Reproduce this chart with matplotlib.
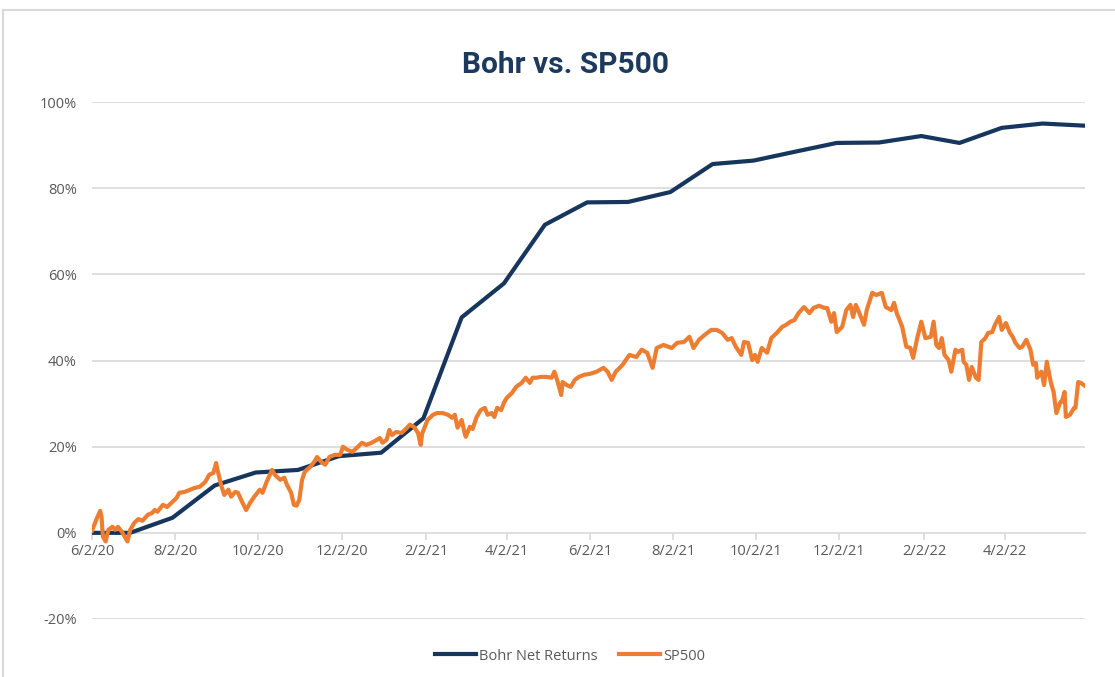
import numpy as np
import pandas as pd
import matplotlib
matplotlib.use("Agg")
import matplotlib.pyplot as plt
from matplotlib.lines import Line2D

# Bohr net returns, month-end points (%)
bohr_dates = ["2020-06-02", "2020-06-30", "2020-07-31", "2020-08-31", "2020-09-30",
              "2020-10-31", "2020-11-30", "2020-12-31", "2021-01-31", "2021-02-28",
              "2021-03-31", "2021-04-30", "2021-05-31", "2021-06-30", "2021-07-31",
              "2021-08-31", "2021-09-30", "2021-10-31", "2021-11-30", "2021-12-31",
              "2022-01-31", "2022-02-28", "2022-03-31", "2022-04-30", "2022-05-31"]
bohr_vals = [0.0, 0.0, 3.5, 11.0, 14.0,
             14.6, 17.8, 18.6, 26.6, 50.0,
             57.9, 71.5, 76.7, 76.8, 79.1,
             85.6, 86.4, 88.5, 90.5, 90.6,
             92.1, 90.5, 94.0, 95.0, 94.5]

# SP500 cumulative return (%), days since 6/2/20
start = pd.Timestamp("2020-06-02")
sp_days = [0, 4, 6, 7, 8, 10, 12, 15, 17, 19,
           22, 24, 26, 28, 31, 34, 37, 41, 44, 46,
           48, 52, 55, 59, 62, 64, 68, 72, 75, 79,
           83, 86, 89, 91, 92, 95, 97, 100, 102, 105,
           107, 110, 113, 116, 119, 123, 125, 128, 132, 134,
           138, 141, 143, 146, 148, 150, 152, 154, 156, 160,
           163, 165, 168, 171, 174, 178, 182, 184, 187, 191,
           194, 198, 201, 205, 209, 211, 213, 216, 218, 220,
           223, 227, 231, 233, 236, 239, 241, 242, 246, 250,
           253, 257, 261, 264, 266, 268, 271, 273, 274, 277,
           279, 282, 285, 288, 290, 293, 295, 297, 300, 302,
           304, 308, 311, 315, 318, 321, 323, 326, 329, 333,
           337, 339, 341, 344, 345, 348, 351, 354, 357, 361,
           365, 370, 375, 378, 381, 384, 389, 394, 399, 403,
           407, 411, 414, 419, 425, 429, 434, 438, 441, 445,
           449, 454, 458, 462, 466, 469, 472, 476, 478, 481,
           484, 486, 488, 491, 495, 498, 502, 506, 509, 512,
           515, 518, 522, 526, 529, 533, 537, 539, 542, 544,
           546, 550, 553, 556, 558, 560, 564, 566, 568, 572,
           575, 579, 582, 586, 588, 590, 594, 597, 600, 602,
           605, 608, 611, 615, 617, 619, 621, 623, 625, 628,
           630, 633, 635, 638, 639, 641, 643, 645, 648, 650,
           652, 655, 657, 660, 662, 665, 667, 670, 673, 675,
           677, 680, 682, 685, 688, 690, 692, 693, 696, 698,
           700, 703, 705, 707, 710, 711, 713, 714, 717, 720,
           721, 723, 725, 728]
sp_vals = [0.5, 3.7, 5.1, 3.7, -0.9, -2.0, 0.7, 1.4, 0.7, 1.4,
           0.2, -0.9, -2.0, 0.7, 2.3, 3.2, 2.8, 4.2, 4.6, 5.3,
           4.9, 6.5, 6.0, 7.2, 8.1, 9.3, 9.5, 10.0, 10.4, 10.7,
           11.8, 13.5, 13.9, 16.2, 14.6, 10.7, 8.8, 10.0, 8.4, 9.5,
           9.3, 7.2, 5.3, 7.0, 8.4, 10.0, 9.3, 11.8, 14.6, 13.5,
           12.3, 12.8, 11.1, 9.3, 6.5, 6.3, 7.7, 12.3, 14.2, 15.3,
           16.5, 17.6, 16.5, 15.8, 17.6, 18.1, 18.1, 20.0, 19.3, 18.8,
           19.7, 20.9, 20.4, 20.9, 21.6, 22.0, 20.9, 21.6, 23.9, 22.7,
           23.4, 23.2, 24.4, 25.1, 24.6, 23.2, 20.4, 23.0, 26.2, 27.4,
           27.8, 27.8, 27.4, 26.7, 27.4, 24.4, 26.2, 23.4, 22.3, 24.6,
           24.1, 26.9, 28.5, 29.0, 27.4, 27.8, 26.9, 29.0, 28.5, 30.2,
           31.3, 32.5, 33.9, 34.8, 36.0, 34.8, 36.0, 36.0, 36.2, 36.2,
           36.0, 37.4, 35.5, 32.0, 35.0, 34.3, 33.9, 35.5, 36.2, 36.7,
           36.9, 37.4, 38.3, 37.4, 35.5, 37.4, 39.0, 41.3, 40.8, 42.5,
           41.8, 38.3, 42.9, 43.6, 42.9, 44.1, 44.3, 45.5, 42.9, 44.8,
           45.9, 47.1, 47.1, 46.4, 44.8, 45.2, 43.2, 41.3, 44.3, 44.1,
           40.1, 41.3, 39.7, 42.9, 41.8, 45.2, 46.4, 47.8, 48.3, 49.0,
           49.4, 51.0, 52.4, 51.0, 52.2, 52.7, 52.2, 52.2, 49.0, 51.0,
           46.6, 47.8, 51.7, 52.9, 50.1, 52.9, 49.9, 48.3, 51.7, 55.7,
           55.2, 55.7, 52.4, 51.7, 53.4, 51.0, 47.8, 43.2, 42.9, 40.6,
           45.2, 49.0, 45.2, 45.5, 49.0, 43.6, 42.9, 45.2, 41.3, 40.1,
           37.4, 42.5, 42.0, 42.5, 39.7, 39.0, 35.5, 38.5, 36.0, 35.5,
           44.3, 45.2, 46.4, 46.6, 48.3, 50.1, 47.1, 48.7, 46.4, 45.5,
           44.1, 42.9, 43.2, 44.8, 42.5, 39.0, 39.4, 36.0, 37.4, 34.3,
           39.7, 34.8, 32.7, 27.8, 30.4, 30.4, 32.7, 26.9, 27.4, 29.0,
           29.0, 35.0, 34.8, 34.1]

tick_dates = ["2020-06-02", "2020-08-02", "2020-10-02", "2020-12-02", "2021-02-02",
              "2021-04-02", "2021-06-02", "2021-08-02", "2021-10-02", "2021-12-02",
              "2022-02-02", "2022-04-02"]
y_ticks = [-20, 0, 20, 40, 60, 80, 100]

navy = "#17365D"
orange = "#ED7D31"
grid = "#D9D9D9"
txt = "#595959"

fig = plt.figure(figsize=(11.15, 6.77), dpi=100)
ax = fig.add_axes([92 / 1115, 1 - 619 / 677, (1085 - 92) / 1115, (619 - 102) / 677])

bd = pd.to_datetime(bohr_dates)
sd = start + pd.to_timedelta(sp_days, unit="D")
ax.plot(bd, bohr_vals, color=navy, lw=3.0, solid_capstyle="round", label="Bohr Net Returns", zorder=3)
ax.plot(sd, sp_vals, color=orange, lw=3.0, solid_joinstyle="round", label="SP500", zorder=4)

ax.set_xlim(start, pd.Timestamp("2022-05-31"))
ax.set_ylim(-20, 100)

ax.set_yticks(y_ticks)
ax.set_yticklabels([f"{v}%" for v in y_ticks])
for v in y_ticks:
    if v != 0:
        ax.axhline(v, color=grid, lw=1.2, zorder=1)

td = pd.to_datetime(tick_dates)
ax.set_xticks(td)
ax.set_xticklabels([f"{d.month}/{d.day}/{d.year % 100}" for d in td])

for s in ["top", "right", "left"]:
    ax.spines[s].set_visible(False)
ax.spines["bottom"].set_position(("data", 0))
ax.spines["bottom"].set_color(grid)
ax.spines["bottom"].set_linewidth(1.2)
ax.spines["bottom"].set_zorder(2)

ax.tick_params(axis="x", direction="out", length=5, width=1.2, color=grid,
               labelsize=10.5, labelcolor=txt, pad=3)
ax.tick_params(axis="y", length=0, labelsize=10.5, labelcolor=txt, pad=11)
for lab in ax.get_xticklabels() + ax.get_yticklabels():
    lab.set_fontfamily("Open Sans")

fig.text(0.507, 1 - 65 / 677, "Bohr vs. SP500", ha="center", va="center",
         fontsize=21.5, fontweight="bold", color="#1B3A5E", family="Roboto")

handles = [Line2D([], [], color=navy, lw=3), Line2D([], [], color=orange, lw=3)]
fig.legend(handles, ["Bohr Net Returns", "SP500"], loc="center",
           bbox_to_anchor=(0.511, 1 - 656 / 677), ncol=2, frameon=False,
           handlelength=2.8, handletextpad=0.2, columnspacing=1.5,
           prop={"family": "Open Sans", "size": 10.5}, labelcolor=txt)

# light frame of the chart area
fig.add_artist(Line2D([3 / 1115, 1], [1 - 10 / 677, 1 - 10 / 677], transform=fig.transFigure,
                      color="#D9D9D9", lw=1.5))
fig.add_artist(Line2D([3 / 1115, 3 / 1115], [0, 1 - 10 / 677], transform=fig.transFigure,
                      color="#D9D9D9", lw=1.5))

fig.savefig("out.png", dpi=100)
